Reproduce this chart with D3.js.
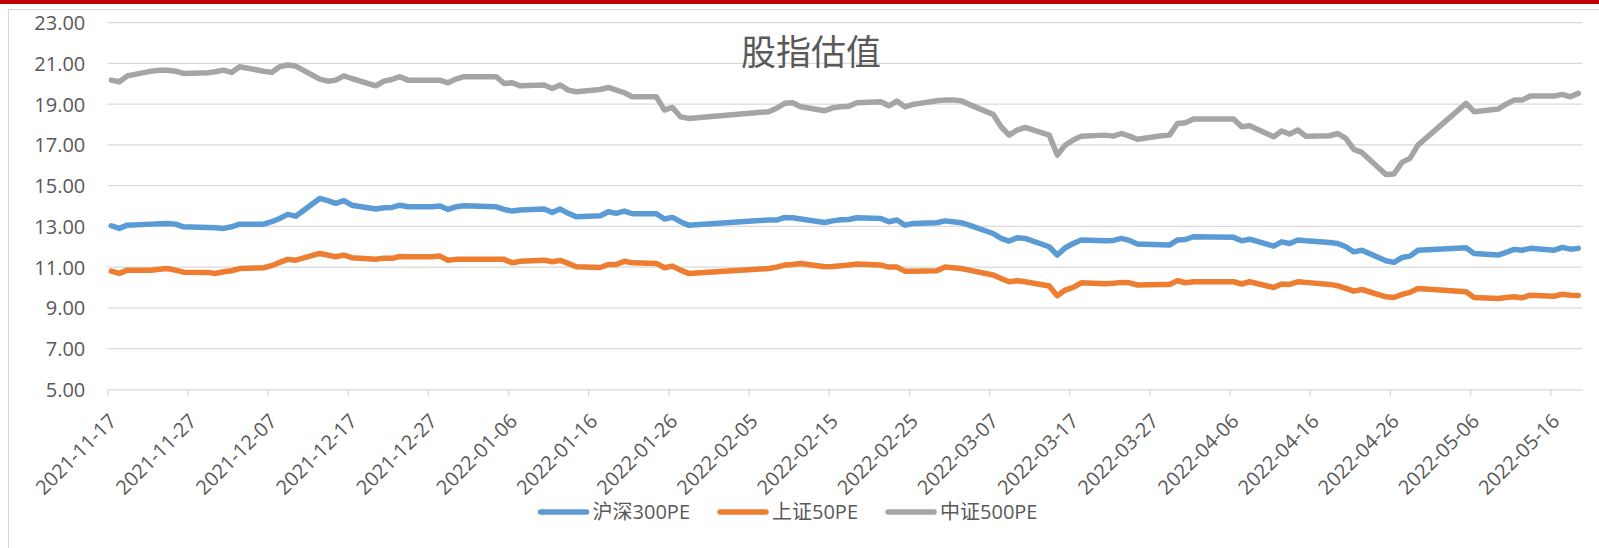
<!DOCTYPE html>
<html>
<head>
<meta charset="utf-8">
<script src="https://cdn.jsdelivr.net/npm/d3@7"></script>
<style>
  html, body { margin: 0; padding: 0; background: #fff; }
  svg { display: block; }
  text { font-family: "Open Sans", "Noto Sans CJK SC", sans-serif; fill: #595959; }
</style>
</head>
<body>
<div id="chart-container"></div>
<script>
// 交易日 (2021-11-17 ~ 2022-05-19)
var dates = [
  "2021-11-17","2021-11-18","2021-11-19","2021-11-22","2021-11-23","2021-11-24","2021-11-25","2021-11-26","2021-11-29","2021-11-30",
  "2021-12-01","2021-12-02","2021-12-03","2021-12-06","2021-12-07","2021-12-08","2021-12-09","2021-12-10","2021-12-13","2021-12-14",
  "2021-12-15","2021-12-16","2021-12-17","2021-12-20","2021-12-21","2021-12-22","2021-12-23","2021-12-24","2021-12-27","2021-12-28",
  "2021-12-29","2021-12-30","2021-12-31",
  "2022-01-04","2022-01-05","2022-01-06","2022-01-07","2022-01-10","2022-01-11","2022-01-12","2022-01-13","2022-01-14","2022-01-17",
  "2022-01-18","2022-01-19","2022-01-20","2022-01-21","2022-01-24","2022-01-25","2022-01-26","2022-01-27","2022-01-28",
  "2022-02-07","2022-02-08","2022-02-09","2022-02-10","2022-02-11","2022-02-14","2022-02-15","2022-02-16","2022-02-17","2022-02-18",
  "2022-02-21","2022-02-22","2022-02-23","2022-02-24","2022-02-25","2022-02-28",
  "2022-03-01","2022-03-02","2022-03-03","2022-03-04","2022-03-07","2022-03-08","2022-03-09","2022-03-10","2022-03-11","2022-03-14",
  "2022-03-15","2022-03-16","2022-03-17","2022-03-18","2022-03-21","2022-03-22","2022-03-23","2022-03-24","2022-03-25","2022-03-28",
  "2022-03-29","2022-03-30","2022-03-31",
  "2022-04-01","2022-04-06","2022-04-07","2022-04-08","2022-04-11","2022-04-12","2022-04-13","2022-04-14","2022-04-15","2022-04-18",
  "2022-04-19","2022-04-20","2022-04-21","2022-04-22","2022-04-25","2022-04-26","2022-04-27","2022-04-28","2022-04-29",
  "2022-05-05","2022-05-06","2022-05-09","2022-05-10","2022-05-11","2022-05-12","2022-05-13","2022-05-16","2022-05-17","2022-05-18",
  "2022-05-19"
];

// 沪深300PE
var hs300 = [
  13.03,12.90,13.06,13.11,13.13,13.14,13.11,12.98,12.95,12.93,
  12.90,12.98,13.11,13.11,13.23,13.39,13.59,13.50,14.37,14.26,
  14.13,14.26,14.04,13.85,13.91,13.93,14.04,13.96,13.96,14.00,
  13.83,13.96,14.01,
  13.96,13.83,13.75,13.80,13.85,13.68,13.85,13.64,13.47,13.52,
  13.72,13.64,13.75,13.62,13.62,13.36,13.44,13.23,13.06,
  13.31,13.31,13.44,13.42,13.36,13.19,13.27,13.32,13.34,13.42,
  13.39,13.23,13.31,13.06,13.14,13.18,
  13.27,13.23,13.18,13.06,12.65,12.41,12.28,12.44,12.41,12.00,
  11.59,11.95,12.16,12.33,12.29,12.31,12.41,12.31,12.13,12.10,
  12.08,12.33,12.36,
  12.49,12.46,12.29,12.37,12.03,12.24,12.16,12.33,12.29,12.21,
  12.16,12.00,11.75,11.83,11.31,11.23,11.47,11.54,11.83,
  11.95,11.67,11.59,11.72,11.87,11.83,11.92,11.83,11.97,11.88,
  11.92
];

// 上证50PE
var sz50 = [
  10.80,10.69,10.85,10.85,10.89,10.93,10.85,10.75,10.74,10.69,
  10.77,10.82,10.93,10.97,11.07,11.23,11.38,11.34,11.67,11.59,
  11.51,11.59,11.46,11.39,11.44,11.43,11.52,11.51,11.51,11.54,
  11.34,11.38,11.39,
  11.38,11.38,11.21,11.29,11.34,11.26,11.33,11.18,11.02,10.98,
  11.13,11.13,11.29,11.21,11.18,10.97,11.05,10.85,10.69,
  10.93,11.00,11.10,11.13,11.18,11.02,11.03,11.07,11.10,11.15,
  11.10,11.00,11.00,10.80,10.80,10.82,
  11.00,10.97,10.93,10.85,10.61,10.44,10.28,10.33,10.28,10.07,
  9.59,9.87,10.00,10.23,10.18,10.21,10.25,10.23,10.12,10.15,
  10.15,10.33,10.23,
  10.28,10.28,10.17,10.28,10.00,10.17,10.15,10.28,10.25,10.15,
  10.08,9.95,9.82,9.90,9.54,9.51,9.66,9.76,9.95,
  9.79,9.51,9.46,9.51,9.54,9.49,9.62,9.57,9.67,9.62,
  9.61
];

// 中证500PE
var zz500 = [
  20.18,20.10,20.39,20.62,20.67,20.67,20.62,20.51,20.54,20.59,
  20.67,20.56,20.84,20.62,20.56,20.84,20.92,20.87,20.23,20.13,
  20.18,20.39,20.26,19.90,20.13,20.21,20.35,20.18,20.18,20.18,
  20.05,20.23,20.35,
  20.35,20.02,20.05,19.90,19.94,19.77,19.94,19.69,19.61,19.72,
  19.82,19.69,19.56,19.36,19.36,18.71,18.84,18.38,18.30,
  18.63,18.80,19.04,19.07,18.87,18.68,18.82,18.87,18.90,19.07,
  19.12,18.92,19.15,18.87,18.99,19.17,
  19.20,19.20,19.17,18.99,18.50,17.89,17.48,17.73,17.86,17.48,
  16.50,16.99,17.24,17.43,17.48,17.43,17.56,17.43,17.28,17.45,
  17.48,18.05,18.09,
  18.27,18.27,17.89,17.94,17.40,17.68,17.53,17.73,17.43,17.45,
  17.56,17.32,16.78,16.63,15.55,15.57,16.14,16.34,16.99,
  19.04,18.63,18.76,19.00,19.20,19.20,19.40,19.40,19.48,19.36,
  19.53
];

var seriesNames = ["沪深300PE", "上证50PE", "中证500PE"];
var seriesColors = ["#5B9BD5", "#ED7D31", "#A5A5A5"];
var chartTitle = "股指估值";
var yTicks = [5, 7, 9, 11, 13, 15, 17, 19, 21, 23];
var xTickLabels = [
  "2021-11-17","2021-11-27","2021-12-07","2021-12-17","2021-12-27","2022-01-06","2022-01-16",
  "2022-01-26","2022-02-05","2022-02-15","2022-02-25","2022-03-07","2022-03-17","2022-03-27",
  "2022-04-06","2022-04-16","2022-04-26","2022-05-06","2022-05-16"
];
var axisStart = "2021-11-17";
var axisEnd = "2022-05-20";

// 畫布
var width = 1599, height = 548;
var plotLeft = 107.3, plotRight = 1582.3, plotTop = 22.7, plotBottom = 389.3;

var svg = d3.select("#chart-container").append("svg")
  .attr("width", width)
  .attr("height", height);

// 頂部紅條與外框
svg.append("rect").attr("x", 0).attr("y", 0).attr("width", width).attr("height", 4).attr("fill", "#C00000");
svg.append("line").attr("x1", 8.5).attr("x2", 8.5).attr("y1", 9).attr("y2", height)
  .attr("stroke", "#d9d9d9").attr("stroke-width", 1);
svg.append("line").attr("x1", 8).attr("x2", width).attr("y1", 9.5).attr("y2", 9.5)
  .attr("stroke", "#d9d9d9").attr("stroke-width", 1);

var parseDate = d3.utcParse("%Y-%m-%d");

// 比例尺 (日期軸, 點落在每日的中間)
var x = d3.scaleUtc()
  .domain([parseDate(axisStart), parseDate(axisEnd)])
  .range([plotLeft, plotRight]);
var y = d3.scaleLinear()
  .domain([5, 23])
  .range([plotBottom, plotTop]);

function xMid(d) { return x(d3.utcHour.offset(d, 12)); }

// 網格線
svg.append("g").selectAll("line")
  .data(yTicks.filter(function (v) { return v !== 5; }))
  .enter().append("line")
  .attr("x1", plotLeft).attr("x2", plotRight)
  .attr("y1", function (d) { return y(d); })
  .attr("y2", function (d) { return y(d); })
  .attr("stroke", "#d9d9d9")
  .attr("stroke-width", 1.3);

// Y 軸
var yAxis = svg.append("g")
  .attr("transform", "translate(" + plotLeft + ",0)")
  .call(d3.axisLeft(y).tickValues(yTicks).tickFormat(d3.format(".2f")).tickSize(0).tickPadding(22));
yAxis.select(".domain").remove();
yAxis.selectAll("text")
  .style("font-size", "20px")
  .attr("dy", "0.35em");

// X 軸
var xAxis = svg.append("g")
  .attr("transform", "translate(0," + plotBottom + ")")
  .call(d3.axisBottom(x)
    .tickValues(xTickLabels.map(parseDate))
    .tickFormat(d3.utcFormat("%Y-%m-%d"))
    .tickSizeInner(7)
    .tickSizeOuter(0));
xAxis.select(".domain").attr("stroke", "#d9d9d9").attr("stroke-width", 1.3);
xAxis.selectAll(".tick line").attr("stroke", "#d9d9d9").attr("stroke-width", 1.3);
xAxis.selectAll(".tick text")
  .style("font-size", "20px")
  .attr("text-anchor", "end")
  .attr("dy", 0)
  .attr("y", 0)
  .attr("transform", "translate(10,33) rotate(-45)");

// 折線
var allSeries = [hs300, sz50, zz500];
var line = d3.line()
  .x(function (d) { return xMid(d.date); })
  .y(function (d) { return y(d.value); });

allSeries.forEach(function (values, i) {
  var pts = values.map(function (v, j) { return { date: parseDate(dates[j]), value: v }; });
  svg.append("path")
    .datum(pts)
    .attr("fill", "none")
    .attr("stroke", seriesColors[i])
    .attr("stroke-width", 5.5)
    .attr("stroke-linejoin", "round")
    .attr("stroke-linecap", "round")
    .attr("d", line);
});

// 標題
svg.append("text")
  .attr("x", 811)
  .attr("y", 65)
  .attr("text-anchor", "middle")
  .style("font-family", "'Noto Sans CJK SC', sans-serif")
  .style("font-size", "35px")
  .text(chartTitle);

// 圖例
var legend = svg.append("g");
var legendY = 512;
var cursor = 0;
seriesNames.forEach(function (name, i) {
  var item = legend.append("g").attr("transform", "translate(" + cursor + ",0)");
  item.append("line")
    .attr("x1", 0).attr("x2", 46)
    .attr("y1", 0).attr("y2", 0)
    .attr("stroke", seriesColors[i])
    .attr("stroke-width", 5.5)
    .attr("stroke-linecap", "round");
  var t = item.append("text")
    .attr("x", 52)
    .attr("y", 0)
    .attr("dy", "0.35em")
    .style("font-size", "20px")
    .text(name);
  cursor += 52 + t.node().getComputedTextLength() + 30;
});
var legendWidth = cursor - 30;
legend.attr("transform", "translate(" + (789 - legendWidth / 2) + "," + legendY + ")");
</script>
</body>
</html>
